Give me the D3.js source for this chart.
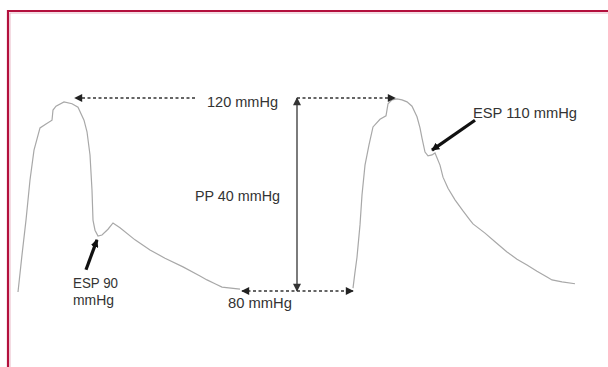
<!DOCTYPE html>
<html>
<head>
<meta charset="utf-8">
<script src="https://cdn.jsdelivr.net/npm/d3@7"></script>
<style>
  body { margin: 0; background: #fff; }
</style>
</head>
<body>
<div class="pulse"></div>
<script>
// Arterial pressure waveform, two beats (time in ms, pressure in mmHg)
const beat1Time = [0, 8, 16, 24, 32, 44, 56, 68, 70, 76, 92, 108, 120, 132, 138, 144, 148, 150, 154, 160, 168, 180, 190, 204, 234, 264, 294, 330, 364, 378, 394, 408, 444];
const beat1Pressure = [79.8, 87.5, 94.7, 103.0, 109.2, 113.8, 114.6, 115.4, 117.5, 118.3, 119.2, 118.8, 118.1, 115.4, 113.0, 108.2, 100.9, 94.7, 92.6, 91.4, 91.6, 92.8, 94.1, 93.1, 90.6, 88.5, 86.8, 85.0, 83.1, 82.3, 81.5, 80.8, 80.4];
const beat2Time = [670, 674, 678, 684, 688, 694, 702, 710, 724, 736, 740, 748, 758, 768, 778, 788, 798, 804, 808, 814, 820, 828, 834, 844, 850, 860, 874, 890, 904, 910, 934, 954, 978, 998, 1018, 1038, 1058, 1068, 1088, 1114];
const beat2Pressure = [80.6, 83.9, 87.0, 93.7, 99.9, 106.1, 110.3, 114.0, 115.6, 116.3, 118.8, 119.6, 119.8, 119.6, 119.2, 118.3, 116.1, 113.8, 111.7, 108.8, 108.0, 108.2, 108.6, 106.1, 103.6, 101.3, 98.9, 96.6, 94.7, 93.9, 92.0, 90.2, 88.1, 86.6, 85.4, 84.1, 82.9, 82.3, 81.9, 81.5];

const systolic = 120;
const diastolic = 80;
const pulsePressure = systolic - diastolic;
const espLeft = 90;
const espRight = 110;

// Annotation anchor times (ms)
const sysDashLeft = [354, 114];
const sysDashRight = [558, 754];
const ppTime = 558;
const diaDash = [448, 670];
const espLeftArrow = { t: [136, 158], p: [84.4, 90.6] };
const espRightArrow = { t: [914, 828], p: [115.4, 109.2] };

const width = 608;
const height = 367;

const svg = d3.select(".pulse")
  .append("svg")
  .attr("width", width)
  .attr("height", height);

const x = d3.scaleLinear().domain([0, 1200]).range([18, 618]);
const y = d3.scaleLinear().domain([diastolic, systolic]).range([291, 98]);

// Frame
svg.append("path")
  .attr("d", `M8,${height} V11 H${width}`)
  .attr("fill", "none")
  .attr("stroke", "#b3103d")
  .attr("stroke-width", 2.2);
svg.append("path")
  .attr("d", `M10,${height} V13 H${width}`)
  .attr("fill", "none")
  .attr("stroke", "#e3a5b8")
  .attr("stroke-width", 0.8);

// Arrow markers
const defs = svg.append("defs");
function marker(id, color, w, h) {
  defs.append("marker")
    .attr("id", id)
    .attr("viewBox", "0 0 10 10")
    .attr("refX", 9)
    .attr("refY", 5)
    .attr("markerUnits", "userSpaceOnUse")
    .attr("markerWidth", w)
    .attr("markerHeight", h)
    .attr("orient", "auto-start-reverse")
    .append("path")
    .attr("d", "M0,0 L10,5 L0,10 Z")
    .attr("fill", color);
}
marker("dashHead", "#222", 9, 8);
marker("solidHead", "#333", 9, 8);
marker("espHead", "#111", 8, 8);

// Waveform
const line = d3.line()
  .x(d => x(d[0]))
  .y(d => y(d[1]))
  .curve(d3.curveLinear);

[[beat1Time, beat1Pressure], [beat2Time, beat2Pressure]].forEach(([t, p]) => {
  svg.append("path")
    .datum(d3.zip(t, p))
    .attr("d", line)
    .attr("fill", "none")
    .attr("stroke", "#a8a8a8")
    .attr("stroke-width", 1.2);
});

// Dashed reference lines
function dashed(t0, t1, p, both) {
  const l = svg.append("line")
    .attr("x1", x(t0)).attr("x2", x(t1))
    .attr("y1", y(p)).attr("y2", y(p))
    .attr("stroke", "#333")
    .attr("stroke-width", 1.3)
    .attr("stroke-dasharray", "3,2.5")
    .attr("marker-end", "url(#dashHead)");
  if (both) l.attr("marker-start", "url(#dashHead)");
}
dashed(sysDashLeft[0], sysDashLeft[1], systolic, false);
dashed(sysDashRight[0], sysDashRight[1], systolic, false);
dashed(diaDash[0], diaDash[1], diastolic, true);

// Pulse pressure arrow
svg.append("line")
  .attr("x1", x(ppTime)).attr("x2", x(ppTime))
  .attr("y1", y(diastolic)).attr("y2", y(systolic))
  .attr("stroke", "#444")
  .attr("stroke-width", 1.4)
  .attr("marker-start", "url(#solidHead)")
  .attr("marker-end", "url(#solidHead)");

// ESP arrows
[espLeftArrow, espRightArrow].forEach(a => {
  svg.append("line")
    .attr("x1", x(a.t[0])).attr("y1", y(a.p[0]))
    .attr("x2", x(a.t[1])).attr("y2", y(a.p[1]))
    .attr("stroke", "#111")
    .attr("stroke-width", 3.2)
    .attr("marker-end", "url(#espHead)");
});

// Labels
const labels = [
  { text: `${systolic} mmHg`, t: 378, p: systolic, dy: 9, len: 71 },
  { text: `PP ${pulsePressure} mmHg`, t: 354, p: 100, dy: 6, len: 85 },
  { text: `${diastolic} mmHg`, t: 420, p: diastolic, dy: 17, len: 64 },
  { text: `ESP ${espRight} mmHg`, t: 910, p: systolic, dy: 20, len: 104 },
  { text: `ESP ${espLeft}`, t: 110, p: diastolic, dy: -3, len: 45 },
  { text: "mmHg", t: 110, p: diastolic, dy: 14, len: 41 }
];

svg.selectAll("text.lbl")
  .data(labels)
  .join("text")
  .attr("class", "lbl")
  .attr("x", d => x(d.t))
  .attr("y", d => y(d.p) + d.dy)
  .attr("textLength", d => d.len)
  .attr("lengthAdjust", "spacingAndGlyphs")
  .text(d => d.text)
  .style("font-family", "Arial, 'Liberation Sans', Helvetica, sans-serif")
  .style("font-size", "14px")
  .style("fill", "#333");
</script>
</body>
</html>
